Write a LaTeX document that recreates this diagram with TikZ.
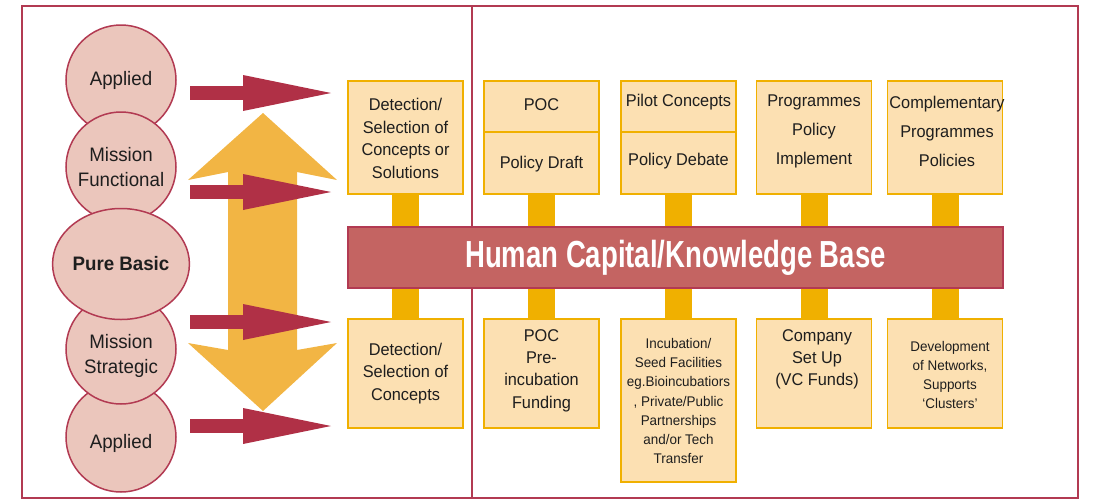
\documentclass[tikz,border=0pt]{standalone}
\usepackage{fontspec}
\setmainfont{Liberation Sans}[FakeStretch=0.96]
\newfontfamily\barfont{Liberation Sans}[FakeStretch=0.73]
\usetikzlibrary{arrows.meta, positioning, shapes.geometric, calc}

\definecolor{framered}{HTML}{B23A52}
\definecolor{arrowred}{HTML}{B03046}
\definecolor{circlefill}{HTML}{EBC6BC}
\definecolor{barfill}{HTML}{C46462}
\definecolor{gold}{HTML}{F0B000}
\definecolor{boxfill}{HTML}{FCE0B2}
\definecolor{bigarrow}{HTML}{F2B544}
\definecolor{ink}{HTML}{1E1E1E}

\tikzset{
  circ/.style={draw=framered, line width=1.5pt, fill=circlefill, circle, minimum size=110pt,
    inner sep=0pt, align=center, text=ink, font=\fontsize{19.5}{25}\selectfont},
  ctxt/.style={align=center, text=ink, inner sep=0pt, font=\fontsize{19.5}{25}\selectfont},
  ybox/.style={draw=gold, line width=1.8pt, fill=boxfill, minimum width=115pt, inner sep=0pt},
  txt/.style={align=center, text=ink, inner sep=0pt, font=\fontsize{17}{22.5}\selectfont},
  widetxt/.style={txt, font=\fontsize{17}{29}\selectfont},
  smalltxt/.style={txt, font=\fontsize{14}{19.3}\selectfont},
  stub/.style={gold, line width=27pt},
  kbar/.style={draw=framered, line width=1.5pt, fill=barfill, minimum width=655pt, minimum height=61pt,
    inner sep=0pt, text=white, font=\barfont\bfseries\fontsize{37.7}{40}\selectfont},
  redarrow/.style={arrowred, line width=14pt, -{Triangle[length=88pt, width=36pt, line width=0pt]}},
}

\begin{document}
\begin{tikzpicture}[x=1pt, y=-1pt]
    \useasboundingbox (0,0) rectangle (1093,499);

    % frame
    \draw[framered, line width=2pt] (22,6) rectangle (1078,498);
    \draw[framered, line width=2pt] (472,6) -- (472,498);

    % boxes above and below the base
    \foreach \x [count=\i] in {405.5,541.5,678.5,814,945}
      \node[ybox, minimum height=113pt] (t\i) at (\x,137.5) {};
    \foreach \x/\h [count=\i] in {405.5/109,541.5/109,678.5/163,814/109,945/109}
      \node[ybox, minimum height=\h pt, anchor=north] (b\i) at (\x,318) {};
    \foreach \i in {1,...,5}
      \draw[stub] (t\i.south) -- (b\i.north);

    \node[kbar] (base) at (675.5,257.5) {Human Capital/Knowledge Base};

    \draw[gold, line width=1.8pt] ($(t2.north west)+(0,52)$) -- ($(t2.north east)+(0,52)$);
    \draw[gold, line width=1.8pt] ($(t3.north west)+(0,52)$) -- ($(t3.north east)+(0,52)$);

    \node[txt] (t1a) at (405.5,138.5) {Detection/\\Selection of\\Concepts or\\Solutions};
    \node[txt] (t2a) at (541.5,105) {POC};
    \node[txt] (t2b) at (541.5,164) {Policy Draft};
    \node[txt] (t3a) at (678.5,102) {Pilot Concepts};
    \node[txt] (t3b) at (678.5,161) {Policy Debate};
    \node[widetxt] (t4a) at (814,131) {Programmes\\Policy\\Implement};
    \node[widetxt] (t5a) at (947,131) {Complementary\\Programmes\\Policies};

    \node[txt] (b1a) at (405.5,373.5) {Detection/\\Selection of\\Concepts};
    \node[txt, font=\fontsize{17}{22.3}\selectfont] (b2a) at (541.5,370.5) {POC\\Pre-\\incubation\\Funding};
    \node[smalltxt] (b3a) at (678.5,401) {Incubation/\\Seed Facilities\\eg.Bioincubatiors\\, Private/Public\\Partnerships\\and/or Tech\\Transfer};
    \node[txt, font=\fontsize{17}{22}\selectfont] (b4a) at (817,359) {Company\\Set Up\\(VC Funds)};
    \node[smalltxt, font=\fontsize{14}{18.7}\selectfont] (b5a) at (950,375) {Development\\of Networks,\\Supports\\`Clusters'};

    % up and down arrow
    \fill[bigarrow] (263,113) -- (337,180) -- (297,172) -- (297,350) -- (337,343) -- (263,411)
      -- (188,343) -- (228,350) -- (228,172) -- (188,180) -- cycle;

    \foreach \y [count=\i] in {93,192,322,426}
    {
      \coordinate (from\i) at (190,\y);
      \coordinate (to\i) at (331,\y);
      \draw[redarrow] (from\i) -- (to\i);
    }

    % research types
    \node[circ] (app1) at (121,80) {Applied};
    \node[circ] (mfun) at (121,167) {Mission\\Functional};
    \node[circ] (app2) at (121,437) {};
    \node[ctxt] (app2t) at (121,443) {Applied};
    \node[circ] (mstr) at (121,349) {};
    \node[ctxt] (mstrt) at (121,356) {Mission\\Strategic};
    \node[circ, ellipse, minimum width=133pt, minimum height=111pt,
      font=\bfseries\fontsize{19.5}{25}\selectfont] (pure) at (121,264) {Pure Basic};
\end{tikzpicture}
\end{document}
